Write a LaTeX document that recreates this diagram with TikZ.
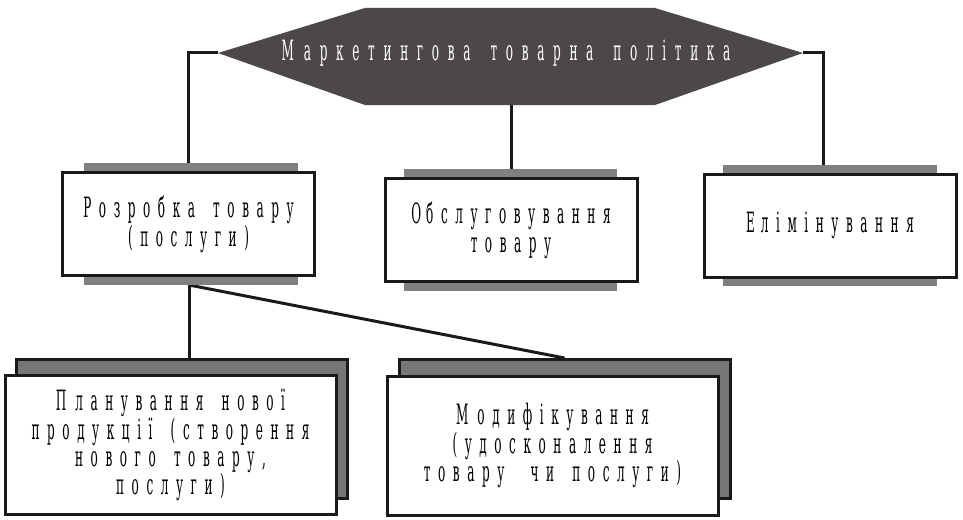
\documentclass[tikz,border=0pt]{standalone}
\usepackage{fontspec}
\newfontfamily\cond[FakeStretch=0.43,LetterSpace=27,WordSpace=1.6]{DejaVu Serif}
\newfontfamily\condt[FakeStretch=0.43,LetterSpace=31,WordSpace=1.6]{DejaVu Serif}
\usetikzlibrary{calc}
\pgfdeclarelayer{bg}
\pgfsetlayers{bg,main}
\definecolor{hexgray}{HTML}{4B4847}
\definecolor{bargray}{HTML}{808080}
\definecolor{backgray}{HTML}{767676}
\definecolor{ink}{HTML}{1A1A1A}
\newcommand\gapx{\kern9pt}
\begin{document}
\begin{tikzpicture}[x=1pt,y=-1pt,
  conn/.style={draw=ink,line width=3pt},
  bar/.style={fill=bargray},
  box/.style={draw=ink,line width=3pt,fill=white,inner sep=0pt,align=center,
    font=\cond\fontsize{28}{22}\selectfont},
  rowtwo/.style={box,minimum width=252pt,minimum height=103pt},
  rowthree/.style={box,minimum width=331pt,minimum height=139pt,
    font=\cond\fontsize{28}{27}\selectfont},
  backbox/.style={draw=ink,line width=3pt,fill=backgray,inner sep=0pt,
    minimum width=331pt,minimum height=139pt},
  titletext/.style={text=white,inner sep=0pt,font=\condt\fontsize{28}{28}\selectfont}
]
\useasboundingbox (0,0) rectangle (963,519);

% hexagon
\fill[hexgray] (218,53) -- (365,8) -- (655,8) -- (803,53) -- (655,105) -- (365,105) -- cycle;
\coordinate (hl) at (218,53);
\coordinate (hr) at (803,53);
\coordinate (hb) at (511,105);
\node[titletext] (mtp) at (506,53) {М\kern10pt аркетингова товарна політика};

% bars of row two
\fill[bar] (84,163) rectangle (298,172);
\fill[bar] (84,276) rectangle (298,285);
\fill[bar] (404,169) rectangle (617,178);
\fill[bar] (404,282) rectangle (617,291);
\fill[bar] (723,165) rectangle (937,174);
\fill[bar] (723,277) rectangle (937,286);

% row two
\node[rowtwo] (lbox) at (188.5,224) {Розробка товару\\(послуги)};
\node[rowtwo,font=\cond\fontsize{28}{29}\selectfont] (mbox) at (511,230) {О\kern5pt бслуговування\\товару};
\node[rowtwo] (rbox) at (830,225.5) {Е\kern6pt лімінування};

% row three
\node[backbox] (blback) at (181.5,428.5) {};
\node[rowthree] (blbox) at (170.5,445) {П\gapx ланування нової\\продукції (створення\\нового товару,\\послуги)};
\node[backbox] (brback) at (564.5,429) {};
\node[rowthree] (brbox) at (552.5,445.5) {М\gapx одифікування\\(удосконалення\\товару\kern8pt{} чи послуги)};

% connectors
\coordinate (ls) at ($(lbox.south)+(0.5,8)$);
\begin{pgfonlayer}{bg}
\draw[conn] (hl) -| ($(lbox.north)+(-0.5,0)$);
\draw[conn] (hb) -- (mbox.north);
\draw[conn] (hr) -| ($(rbox.north)+(-7,0)$);
\draw[conn] (ls) -- (ls |- blback.north);
\draw[conn] (ls) -- (brback.north);
\end{pgfonlayer}
\end{tikzpicture}
\end{document}
